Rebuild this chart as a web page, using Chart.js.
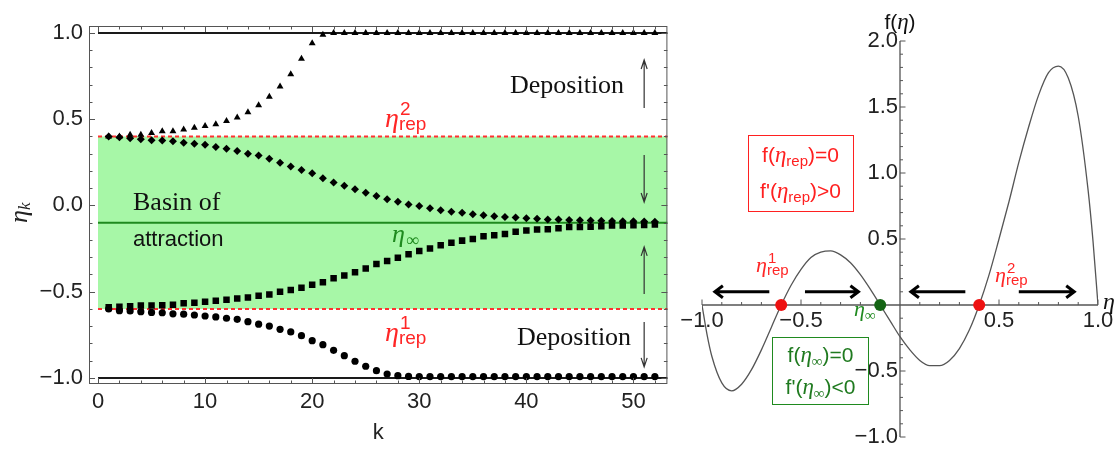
<!DOCTYPE html>
<html>
<head>
<meta charset="utf-8">
<script src="https://cdn.jsdelivr.net/npm/chart.js@4.4.1/dist/chart.umd.min.js"></script>
<style>
  html, body { margin: 0; padding: 0; background: #fff; }
  #wrap { position: relative; width: 1118px; height: 450px; }
  #left { position: absolute; left: 0; top: 0; }
  #right { position: absolute; left: 672px; top: 0; }
</style>
</head>
<body>
<div id="wrap">
  <canvas id="left" width="672" height="450"></canvas>
  <canvas id="right" width="446" height="450"></canvas>
</div>
<script>
// ---- left panel: eta_k against k ----
const kSteps = [1,2,3,4,5,6,7,8,9,10,11,12,13,14,15,16,17,18,19,20,21,22,23,24,25,26,
  27,28,29,30,31,32,33,34,35,36,37,38,39,40,41,42,43,44,45,46,47,48,49,50,51,52];
// start just above eta_rep2 -> deposition at +1
const etaUpperOut = [0.40,0.40,0.41,0.41,0.42,0.43,0.43,0.44,0.45,0.46,0.47,0.49,0.51,0.54,0.58,0.63,
  0.69,0.76,0.85,0.94,0.99,1.0,1.0,1.0,1.0,1.0,1.0,1.0,1.0,1.0,1.0,1.0,1.0,1.0,1.0,1.0,
  1.0,1.0,1.0,1.0,1.0,1.0,1.0,1.0,1.0,1.0,1.0,1.0,1.0,1.0,1.0,1.0];
// start just below eta_rep2 -> eta_inf
const etaUpperIn = [0.40,0.395,0.389,0.384,0.378,0.376,0.372,0.364,0.357,0.351,0.339,0.328,0.316,0.300,
  0.289,0.270,0.248,0.225,0.206,0.187,0.158,0.133,0.114,0.094,0.074,0.055,0.036,0.022,0.005,-0.003,
  -0.016,-0.028,-0.036,-0.043,-0.051,-0.057,-0.063,-0.067,-0.070,-0.074,-0.077,-0.081,-0.082,-0.084,
  -0.086,-0.088,-0.089,-0.090,-0.091,-0.092,-0.093,-0.094];
// start just above eta_rep1 -> eta_inf
const etaLowerIn = [-0.59,-0.587,-0.585,-0.58,-0.58,-0.579,-0.575,-0.567,-0.564,-0.558,-0.553,-0.547,
  -0.539,-0.533,-0.523,-0.516,-0.501,-0.490,-0.477,-0.460,-0.445,-0.422,-0.406,-0.387,-0.366,-0.340,
  -0.322,-0.303,-0.283,-0.264,-0.250,-0.231,-0.217,-0.204,-0.194,-0.179,-0.173,-0.165,-0.152,-0.146,
  -0.140,-0.138,-0.132,-0.125,-0.125,-0.123,-0.121,-0.117,-0.117,-0.115,-0.113,-0.111];
// start just below eta_rep1 -> deposition at -1
const etaLowerOut = [-0.60,-0.61,-0.612,-0.616,-0.62,-0.622,-0.628,-0.63,-0.635,-0.641,-0.646,-0.654,
  -0.660,-0.674,-0.688,-0.699,-0.718,-0.733,-0.755,-0.784,-0.807,-0.840,-0.871,-0.903,-0.932,-0.958,
  -0.977,-0.987,-0.991,-0.992,-0.992,-0.992,-0.992,-0.992,-0.992,-0.992,-0.992,-0.992,-0.992,-0.992,
  -0.992,-0.992,-0.992,-0.992,-0.992,-0.992,-0.992,-0.992,-0.992,-0.992,-0.992,-0.992];
const etaRep1 = -0.6, etaRep2 = 0.4, etaInf = -0.1;
const etaWalls = [-1, 1];
const leftXTicks = [0, 10, 20, 30, 40, 50];
const leftYTicks = [-1, -0.5, 0, 0.5, 1];

// ---- right panel: f(eta) ----
const etaGrid = [-1,-0.975,-0.95,-0.9,-0.85,-0.8,-0.75,-0.7,-0.65,-0.6,-0.55,-0.5,-0.45,-0.4,-0.35,-0.3,
  -0.25,-0.2,-0.15,-0.1,-0.05,0,0.05,0.1,0.15,0.2,0.25,0.3,0.35,0.4,0.45,0.5,0.55,0.6,0.65,0.7,0.75,
  0.8,0.85,0.9,0.95,0.975,1];
const fEta = [0,-0.22,-0.39,-0.59,-0.65,-0.60,-0.49,-0.34,-0.17,0,0.15,0.27,0.36,0.40,0.41,0.38,
  0.32,0.23,0.12,0,-0.12,-0.24,-0.34,-0.42,-0.46,-0.46,-0.42,-0.33,-0.19,0,0.23,0.50,0.78,1.08,
  1.35,1.59,1.76,1.81,1.72,1.43,0.87,0.48,0];
const rightXTicks = [-1, -0.5, 0.5, 1];
const rightYTicks = [-1, -0.5, 0.5, 1, 1.5, 2];
const repellingRoots = [-0.6, 0.4];
const attractingRoots = [-0.1];

const SERIF = "'Liberation Serif', 'Times New Roman', serif";
const SANS = "'Liberation Sans', Arial, sans-serif";
const fmt = (v) => (v < 0 ? '\u2212' : '') + Math.abs(v).toFixed(1);
const span = (y) => [{ x: 0, y: y }, { x: 54, y: y }];
const pts = (ys) => ys.map((y, i) => ({ x: kSteps[i], y: y }));

// draws text pieces one after the other, centred on cx
function richText(ctx, cx, y, parts, color) {
  ctx.fillStyle = color;
  ctx.textBaseline = 'alphabetic';
  ctx.textAlign = 'left';
  let w = 0;
  parts.forEach(p => { ctx.font = p[1]; w += ctx.measureText(p[0]).width; });
  let x = cx - w / 2;
  parts.forEach(p => {
    ctx.font = p[1];
    ctx.fillText(p[0], x, y + (p[2] || 0));
    x += ctx.measureText(p[0]).width;
  });
}

function arrow(ctx, x1, y1, x2, y2, head, halfW) {
  const ang = Math.atan2(y2 - y1, x2 - x1);
  ctx.beginPath();
  ctx.moveTo(x1, y1);
  ctx.lineTo(x2, y2);
  ctx.moveTo(x2 - head * Math.cos(ang) + halfW * Math.sin(ang), y2 - head * Math.sin(ang) - halfW * Math.cos(ang));
  ctx.lineTo(x2, y2);
  ctx.lineTo(x2 - head * Math.cos(ang) - halfW * Math.sin(ang), y2 - head * Math.sin(ang) + halfW * Math.cos(ang));
  ctx.stroke();
}

// eta with a super- and subscript stacked after it
function etaLabel(ctx, x, y, sup, sub, color, size) {
  ctx.fillStyle = color;
  ctx.textAlign = 'left';
  ctx.textBaseline = 'alphabetic';
  ctx.font = 'italic ' + size + 'px ' + SERIF;
  ctx.fillText('\u03b7', x, y);
  const w = ctx.measureText('\u03b7').width;
  ctx.font = Math.round(size * 0.68) + 'px ' + SANS;
  if (sup) ctx.fillText(sup, x + w + 1, y - size * 0.42);
  if (sub) ctx.fillText(sub, x + w, y + size * 0.12);
}

const leftDecor = {
  id: 'leftDecor',
  afterDatasetsDraw(chart) {
    const { ctx, chartArea: a, scales: { x, y } } = chart;
    ctx.save();
    // frame with inward ticks
    ctx.strokeStyle = '#555';
    ctx.lineWidth = 1;
    ctx.strokeRect(a.left + 0.5, a.top + 0.5, a.right - a.left - 1, a.bottom - a.top - 1);
    ctx.beginPath();
    for (let k = 0; k <= 52; k += 2) {
      const px = Math.round(x.getPixelForValue(k)) + 0.5;
      const len = k % 10 === 0 ? 6 : 3.5;
      ctx.moveTo(px, a.bottom); ctx.lineTo(px, a.bottom - len);
      ctx.moveTo(px, a.top); ctx.lineTo(px, a.top + len);
    }
    for (let i = -10; i <= 10; i++) {
      const py = Math.round(y.getPixelForValue(i / 10)) + 0.5;
      const len = i % 5 === 0 ? 6 : 3.5;
      ctx.moveTo(a.left, py); ctx.lineTo(a.left + len, py);
      ctx.moveTo(a.right, py); ctx.lineTo(a.right - len, py);
    }
    ctx.stroke();

    // labels inside the plot
    ctx.fillStyle = '#111';
    ctx.textAlign = 'left';
    ctx.textBaseline = 'alphabetic';
    ctx.font = '26px ' + SERIF;
    ctx.fillText('Deposition', 510, 93);
    ctx.fillText('Deposition', 517, 345);
    ctx.fillText('Basin of', 133, 210);
    ctx.font = '22px ' + SANS;
    ctx.fillText('attraction', 133, 246);

    etaLabel(ctx, 385, 127, '2', 'rep', '#ff2626', 28);
    etaLabel(ctx, 385, 341, '1', 'rep', '#ff2626', 28);
    ctx.fillStyle = '#1f8a1f';
    ctx.font = 'italic 26px ' + SERIF;
    ctx.fillText('\u03b7', 392, 242);
    ctx.font = '18px ' + SERIF;
    ctx.fillText('\u221e', 406, 246);

    // flow arrows
    ctx.strokeStyle = '#333';
    ctx.lineWidth = 1.2;
    const ax = x.getPixelForValue(51);
    arrow(ctx, ax, y.getPixelForValue(0.565), ax, y.getPixelForValue(0.843), 9, 3);
    arrow(ctx, ax, y.getPixelForValue(0.293), ax, y.getPixelForValue(0.02), 9, 3);
    arrow(ctx, ax, y.getPixelForValue(-0.513), ax, y.getPixelForValue(-0.24), 9, 3);
    arrow(ctx, ax, y.getPixelForValue(-0.675), ax, y.getPixelForValue(-0.936), 9, 3);

    // y axis label eta_k
    ctx.translate(27, 213);
    ctx.rotate(-Math.PI / 2);
    ctx.fillStyle = '#222';
    ctx.font = 'italic 26px ' + SERIF;
    ctx.fillText('\u03b7', -10, 0);
    ctx.font = 'italic 17px ' + SERIF;
    ctx.fillText('k', 3, 3);
    ctx.restore();
  }
};

const markerSet = (ys, style, r) => ({
  data: pts(ys), showLine: false, pointStyle: style, pointRadius: r,
  backgroundColor: '#000', borderColor: '#000', borderWidth: 0, order: 1
});
const hLine = (yv, color, dash, order) => ({
  data: span(yv), borderColor: color, borderWidth: 2, borderDash: dash, pointRadius: 0, order: order
});

new Chart(document.getElementById('left'), {
  type: 'line',
  data: {
    datasets: [
      { data: span(etaRep2), fill: { value: etaRep1 }, backgroundColor: '#a7f7a7',
        borderWidth: 0, pointRadius: 0, order: 9 },
      hLine(etaWalls[1], '#1a1a1a', [], 6),
      hLine(etaWalls[0], '#1a1a1a', [], 6),
      hLine(etaInf, '#1f8a1f', [], 5),
      hLine(etaRep2, '#ff3030', [4, 3], 4),
      hLine(etaRep1, '#ff3030', [4, 3], 4),
      markerSet(etaUpperOut, 'triangle', 4),
      markerSet(etaUpperIn, 'rectRot', 4),
      markerSet(etaLowerIn, 'rect', 4.6),
      markerSet(etaLowerOut, 'circle', 3.6)
    ]
  },
  options: {
    responsive: false,
    animation: false,
    layout: { padding: { top: 26, right: 3, left: 0, bottom: 0 } },
    plugins: { legend: { display: false }, tooltip: { enabled: false } },
    scales: {
      x: {
        type: 'linear', min: -0.84, max: 53.17,
        afterBuildTicks: (s) => { s.ticks = leftXTicks.map(v => ({ value: v })); },
        afterFit: (s) => { s.height = 66; },
        grid: { display: false, drawTicks: false },
        border: { display: false },
        ticks: { font: { size: 22, family: SANS }, color: '#222', padding: 5, maxRotation: 0,
                 callback: (v) => String(v) },
        title: { display: true, text: 'k', font: { size: 22, family: SANS }, color: '#222',
                 padding: { top: 0, bottom: 4 } }
      },
      y: {
        min: -1.035, max: 1.04,
        afterBuildTicks: (s) => { s.ticks = leftYTicks.map(v => ({ value: v })); },
        afterFit: (s) => { s.width = 89; },
        grid: { display: false, drawTicks: false },
        border: { display: false },
        ticks: { font: { size: 22, family: SANS }, color: '#222', padding: 6, callback: fmt }
      }
    }
  },
  plugins: [leftDecor]
});

// ---- right panel ----
const rightAxes = {
  id: 'rightAxes',
  beforeDatasetsDraw(chart) {
    const { ctx, scales: { x, y } } = chart;
    const x0 = x.getPixelForValue(0), y0 = y.getPixelForValue(0);
    ctx.save();
    ctx.strokeStyle = '#555';
    ctx.lineWidth = 1.3;
    ctx.beginPath();
    ctx.moveTo(x.getPixelForValue(-1), y0); ctx.lineTo(x.getPixelForValue(1), y0);
    ctx.moveTo(x0, y.getPixelForValue(-1)); ctx.lineTo(x0, y.getPixelForValue(2));
    ctx.stroke();
    ctx.lineWidth = 1;
    ctx.beginPath();
    for (let i = -10; i <= 10; i++) {
      if (i === 0) continue;
      const px = x.getPixelForValue(i / 10);
      const len = i % 5 === 0 ? 5.5 : 3;
      ctx.moveTo(px, y0); ctx.lineTo(px, y0 - len);
    }
    for (let i = -10; i <= 20; i++) {
      if (i === 0) continue;
      const py = y.getPixelForValue(i / 10);
      const len = i % 5 === 0 ? 5.5 : 3;
      ctx.moveTo(x0, py); ctx.lineTo(x0 + len, py);
    }
    ctx.stroke();
    ctx.restore();
  },
  afterDatasetsDraw(chart) {
    const { ctx, scales: { x, y } } = chart;
    const x0 = x.getPixelForValue(0), y0 = y.getPixelForValue(0);
    ctx.save();
    // tick labels
    ctx.fillStyle = '#222';
    ctx.font = '22px ' + SANS;
    ctx.textBaseline = 'middle';
    ctx.textAlign = 'center';
    rightXTicks.forEach(v => ctx.fillText(fmt(v), x.getPixelForValue(v), y0 + 16));
    ctx.textAlign = 'right';
    rightYTicks.forEach(v => ctx.fillText(fmt(v), x0 - 2, y.getPixelForValue(v)));

    // axis names
    ctx.textBaseline = 'alphabetic';
    richText(ctx, 228, 29, [['f(', '21px ' + SANS], ['\u03b7', 'italic 23px ' + SERIF], [')', '21px ' + SANS]], '#111');
    ctx.font = 'italic 24px ' + SERIF;
    ctx.textAlign = 'left';
    ctx.fillText('\u03b7', 431, 309);

    // flow arrows along the eta axis
    ctx.strokeStyle = '#000';
    ctx.lineWidth = 3;
    const ay = y.getPixelForValue(0.1);
    arrow(ctx, x.getPixelForValue(-0.66), ay, x.getPixelForValue(-0.935), ay, 8, 6);
    arrow(ctx, x.getPixelForValue(-0.48), ay, x.getPixelForValue(-0.21), ay, 8, 6);
    arrow(ctx, x.getPixelForValue(0.33), ay, x.getPixelForValue(0.055), ay, 8, 6);
    arrow(ctx, x.getPixelForValue(0.6), ay, x.getPixelForValue(0.88), ay, 8, 6);

    // root labels
    etaLabel(ctx, 84, 272, '1', 'rep', '#ff2626', 22);
    etaLabel(ctx, 323, 282, '2', 'rep', '#ff2626', 22);
    ctx.fillStyle = '#1f8a1f';
    ctx.font = 'italic 22px ' + SERIF;
    ctx.fillText('\u03b7', 182, 316);
    ctx.font = '15px ' + SERIF;
    ctx.fillText('\u221e', 193, 320);

    // condition boxes
    ctx.lineWidth = 1;
    ctx.strokeStyle = '#ff2020';
    ctx.strokeRect(76.5, 135.5, 105, 76);
    richText(ctx, 128.5, 162, [['f(', '21px ' + SANS], ['\u03b7', 'italic 23px ' + SERIF],
      ['rep', '15px ' + SANS, 4], [')=0', '21px ' + SANS]], '#ff2020');
    richText(ctx, 128.5, 198, [["f'(", '21px ' + SANS], ['\u03b7', 'italic 23px ' + SERIF],
      ['rep', '15px ' + SANS, 4], [')>0', '21px ' + SANS]], '#ff2020');
    ctx.strokeStyle = '#1f8a1f';
    ctx.strokeRect(100.5, 337.5, 96, 67);
    richText(ctx, 148.5, 362, [['f(', '21px ' + SANS], ['\u03b7', 'italic 23px ' + SERIF],
      ['\u221e', '15px ' + SERIF, 4], [')=0', '21px ' + SANS]], '#1f7a1f');
    richText(ctx, 148.5, 394, [["f'(", '21px ' + SANS], ['\u03b7', 'italic 23px ' + SERIF],
      ['\u221e', '15px ' + SERIF, 4], [')<0', '21px ' + SANS]], '#1f7a1f');
    ctx.restore();
  }
};

new Chart(document.getElementById('right'), {
  type: 'line',
  data: {
    datasets: [
      { data: etaGrid.map((e, i) => ({ x: e, y: fEta[i] })), borderColor: '#555', borderWidth: 1.3,
        pointRadius: 0, cubicInterpolationMode: 'monotone', order: 3 },
      { data: repellingRoots.map(e => ({ x: e, y: 0 })), showLine: false, pointRadius: 6,
        backgroundColor: '#ee1111', borderColor: '#ee1111', borderWidth: 0, order: 1 },
      { data: attractingRoots.map(e => ({ x: e, y: 0 })), showLine: false, pointRadius: 6,
        backgroundColor: '#146414', borderColor: '#146414', borderWidth: 0, order: 1 }
    ]
  },
  options: {
    responsive: false,
    animation: false,
    layout: { padding: { left: 30, right: 20, top: 41, bottom: 13 } },
    plugins: { legend: { display: false }, tooltip: { enabled: false } },
    scales: {
      x: { type: 'linear', min: -1, max: 1, display: false },
      y: { min: -1, max: 2, display: false }
    }
  },
  plugins: [rightAxes]
});
</script>
</body>
</html>
